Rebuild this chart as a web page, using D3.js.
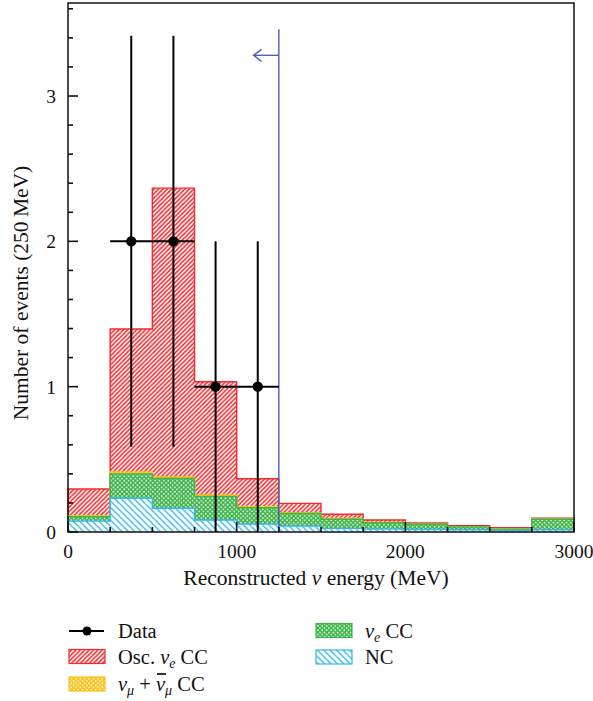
<!DOCTYPE html>
<html><head><meta charset="utf-8">
<script src="https://cdn.jsdelivr.net/npm/d3@7"></script>
<style>body{margin:0;background:#fff} svg{display:block} text{font-family:"Liberation Serif","DejaVu Serif",serif;fill:#111}</style>
</head><body><svg id="c" width="593" height="701"></svg>
<script>
// ---- data ----
const binLow = [0,250,500,750,1000,1250,1500,1750,2000,2250,2500,2750];
const binHigh = 3000;
const ncVals     = [0.075,0.232,0.163,0.083,0.055,0.041,0.025,0.020,0.017,0.015,0.010,0.015];
const nueCCVals  = [0.030,0.168,0.205,0.162,0.113,0.087,0.063,0.044,0.036,0.020,0.010,0.073];
const numuCCVals = [0.008,0.013,0.010,0.010,0.007,0.004,0.006,0.004,0.003,0.002,0.002,0.002];
const oscVals    = [0.183,0.984,1.988,0.779,0.191,0.065,0.028,0.015,0.006,0.007,0.008,0.005];
const dataE    = [375,625,875,1125];
const dataN    = [2,2,1,1];
const dataErr  = [1.414,1.414,1,1];
const dataXErr = [125,125,125,125];
const cutE = 1250, cutTop = 3.46, arrowY = 3.28, arrowEnd = 1100;
const xTicks = [0,1000,2000,3000];
const yTicks = [0,1,2,3];

// ---- layout ----
const svg = d3.select("#c");
const x = d3.scaleLinear().domain([0,3000]).range([68,574]);
const y = d3.scaleLinear().domain([0,3.64]).range([532,3]);
const col = {osc:"#f5282d", numu:"#f7c21b", nue:"#3fb44b", nc:"#35b7e8", cut:"#4c5fb2"};

const defs = svg.append("defs");
function hatch(id, size, color, dir, w){
  const p = defs.append("pattern").attr("id",id).attr("patternUnits","userSpaceOnUse")
    .attr("width",size).attr("height",size);
  p.append("rect").attr("width",size).attr("height",size).attr("fill","#fff");
  const s=size;
  const d = dir==="/" ? `M0,${s} L${s},0 M${-s/2},${s/2} L${s/2},${-s/2} M${s/2},${s*1.5} L${s*1.5},${s/2}`
                      : `M0,0 L${s},${s} M${-s/2},${s/2} L${s/2},${s*1.5} M${s/2},${-s/2} L${s*1.5},${s/2}`;
  p.append("path").attr("d",d).attr("stroke",color).attr("stroke-width",w).attr("fill","none");
}
function dots(id, color){
  const p = defs.append("pattern").attr("id",id).attr("patternUnits","userSpaceOnUse")
    .attr("width",4.4).attr("height",4.4);
  p.append("rect").attr("width",4.4).attr("height",4.4).attr("fill",color);
  p.append("circle").attr("cx",1.1).attr("cy",1.1).attr("r",0.85).attr("fill","#fff");
  p.append("circle").attr("cx",3.3).attr("cy",3.3).attr("r",0.85).attr("fill","#fff");
}
hatch("pOsc",4.4,col.osc,"/",1.5);
hatch("pNC",6.4,col.nc,"\\",1.4);
dots("pNue",col.nue);
dots("pNumu",col.numu);

// ---- stacked histograms (ROOT-like: cumulative drawn from zero) ----
const table = binLow.map((e,i)=>({e, nc:ncVals[i], nue:nueCCVals[i], numu:numuCCVals[i], osc:oscVals[i]}));
const keys = ["nc","nue","numu","osc"];
const stacked = d3.stack().keys(keys)(table);
const fills = {nc:"url(#pNC)", nue:"url(#pNue)", numu:"url(#pNumu)", osc:"url(#pOsc)"};
const area = d3.area().x(d=>x(d[0])).y0(y(0)).y1(d=>y(d[1])).curve(d3.curveStepAfter);
const line = d3.line().x(d=>x(d[0])).y(d=>y(d[1])).curve(d3.curveStepAfter);
const gH = svg.append("g");
[...stacked].reverse().forEach(layer=>{
  const pts = layer.map(d=>[d.data.e, d[1]]);
  pts.push([binHigh, layer[layer.length-1][1]]);
  gH.append("path").attr("d",area(pts)).attr("fill",fills[layer.key]);
  const outline = [[0,0], ...pts, [binHigh,0]];
  gH.append("path").attr("d",line(outline)).attr("fill","none")
    .attr("stroke",col[layer.key]).attr("stroke-width",1.4);
});

// ---- cut line + arrow ----
svg.append("line").attr("x1",x(cutE)).attr("x2",x(cutE)).attr("y1",y(0)).attr("y2",y(cutTop))
  .attr("stroke",col.cut).attr("stroke-width",1.4);
svg.append("line").attr("x1",x(cutE)).attr("x2",x(arrowEnd)).attr("y1",y(arrowY)).attr("y2",y(arrowY))
  .attr("stroke",col.cut).attr("stroke-width",1.4);
svg.append("path").attr("d",`M${x(arrowEnd)+8},${y(arrowY)-6} L${x(arrowEnd)},${y(arrowY)} L${x(arrowEnd)+8},${y(arrowY)+6}`)
  .attr("fill","none").attr("stroke",col.cut).attr("stroke-width",1.4);

// ---- data points ----
const gD = svg.append("g");
dataE.forEach((e,i)=>{
  gD.append("line").attr("x1",x(e)).attr("x2",x(e)).attr("y1",y(Math.max(0,dataN[i]-dataErr[i]))).attr("y2",y(dataN[i]+dataErr[i]))
    .attr("stroke","#000").attr("stroke-width",2);
  gD.append("line").attr("x1",x(e-dataXErr[i])).attr("x2",x(e+dataXErr[i])).attr("y1",y(dataN[i])).attr("y2",y(dataN[i]))
    .attr("stroke","#000").attr("stroke-width",2);
  gD.append("circle").attr("cx",x(e)).attr("cy",y(dataN[i])).attr("r",5.2).attr("fill","#000");
});

// ---- axes / frame ----
svg.append("rect").attr("x",x(0)).attr("y",y(3.64)).attr("width",x(3000)-x(0)).attr("height",y(0)-y(3.64))
  .attr("fill","none").attr("stroke","#111").attr("stroke-width",1.5);
const gA = svg.append("g").attr("stroke","#111").attr("stroke-width",1.6);
d3.range(0,3.641,0.2).forEach(v=>{
  const major = Math.abs(v-Math.round(v))<1e-6;
  gA.append("line").attr("x1",x(0)).attr("x2",x(0)+(major?10:5)).attr("y1",y(v)).attr("y2",y(v));
});
d3.range(0,3001,250).forEach(v=>{
  const major = v%1000===0;
  gA.append("line").attr("x1",x(v)).attr("x2",x(v)).attr("y1",y(0)).attr("y2",y(0)-(major?10:5));
});
const fs = 19.5, fsT = 21.5;
yTicks.forEach(v=>{
  svg.append("text").attr("x",x(0)-12).attr("y",y(v)+7).attr("text-anchor","end").attr("font-size",fs).text(v);
});
xTicks.forEach(v=>{
  svg.append("text").attr("x",x(v)).attr("y",558).attr("text-anchor","middle").attr("font-size",fs).text(v);
});
const xt = svg.append("text").attr("x",316).attr("y",585).attr("text-anchor","middle").attr("font-size",fsT);
xt.append("tspan").text("Reconstructed ");
xt.append("tspan").attr("font-style","italic").text("ν");
xt.append("tspan").text(" energy (MeV)");
svg.append("text").attr("transform","translate(28,293) rotate(-90)").attr("text-anchor","middle")
  .attr("font-size",fsT).text("Number of events (250\u2009MeV)");

// ---- legend ----
const fsL = 20.5;
const gL = svg.append("g");
gL.append("line").attr("x1",69).attr("x2",104).attr("y1",631).attr("y2",631).attr("stroke","#000").attr("stroke-width",2);
gL.append("line").attr("x1",87).attr("x2",87).attr("y1",627).attr("y2",635).attr("stroke","#000").attr("stroke-width",2);
gL.append("circle").attr("cx",87).attr("cy",631).attr("r",4.5).attr("fill","#000");
function sw(x0,y0,fill,stroke){
  gL.append("rect").attr("x",x0).attr("y",y0).attr("width",36).attr("height",14)
    .attr("fill",fill).attr("stroke",stroke).attr("stroke-width",1.2);
}
sw(69,649.5,"url(#pOsc)",col.osc);
sw(69,677,"url(#pNumu)",col.numu);
sw(316,623.5,"url(#pNue)",col.nue);
sw(316,650,"url(#pNC)",col.nc);
function lt(x0,yb){ return gL.append("text").attr("x",x0).attr("y",yb).attr("font-size",fsL); }
lt(118,638).text("Data");
let t = lt(118,664); t.append("tspan").text("Osc. ");
t.append("tspan").attr("font-style","italic").text("ν");
t.append("tspan").attr("font-style","italic").attr("font-size",14).attr("dy",4).text("e");
t.append("tspan").attr("dy",-4).text(" CC");
t = lt(118,691); t.append("tspan").attr("font-style","italic").text("ν");
t.append("tspan").attr("font-style","italic").attr("font-size",14).attr("dy",4).text("μ");
t.append("tspan").attr("dy",-4).text(" + ");
t.append("tspan").attr("font-style","italic").attr("id","nubar").text("ν");
t.append("tspan").attr("font-style","italic").attr("font-size",14).attr("dy",4).text("μ");
t.append("tspan").attr("dy",-4).text(" CC");
// overline over anti-neutrino
const nb = document.getElementById("nubar");
const ext = nb.getExtentOfChar ? nb.getExtentOfChar(0) : null;
if (ext) {
  gL.append("line").attr("x1",ext.x+1).attr("x2",ext.x+ext.width+1).attr("y1",ext.y+1).attr("y2",ext.y+1)
    .attr("stroke","#000").attr("stroke-width",1.6);
}
t = lt(365,638); t.append("tspan").attr("font-style","italic").text("ν");
t.append("tspan").attr("font-style","italic").attr("font-size",14).attr("dy",4).text("e");
t.append("tspan").attr("dy",-4).text(" CC");
lt(365,664).text("NC");
</script></body></html>
